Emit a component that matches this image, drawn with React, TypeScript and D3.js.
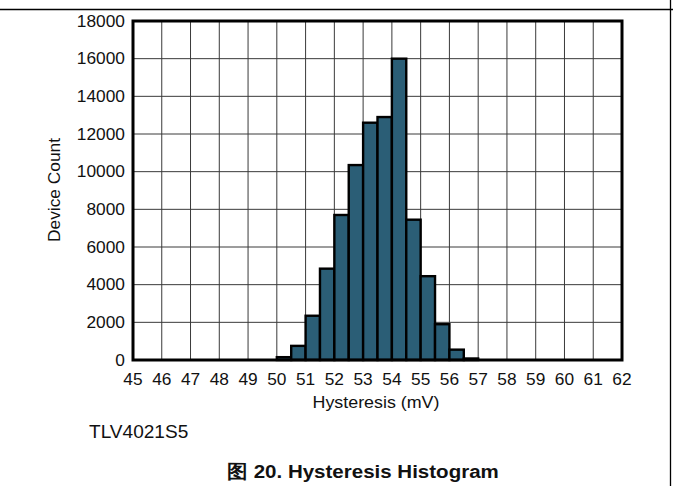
import React from "react";
import * as d3 from "d3";

const binStarts: number[] = [50.0, 50.5, 51.0, 51.5, 52.0, 52.5, 53.0, 53.5, 54.0, 54.5, 55.0, 55.5, 56.0, 56.5];
const counts: number[] = [150, 750, 2350, 4850, 7700, 10350, 12600, 12900, 16000, 7450, 4450, 1900, 550, 80];
const binWidth = 0.5;
const xTicks: number[] = d3.range(45, 63, 1);
const yTicks: number[] = d3.range(0, 18001, 2000);
const xLabel = "Hysteresis (mV)";
const yLabel = "Device Count";
const deviceLabel = "TLV4021S5";
const caption = "图 20. Hysteresis Histogram";

const W = 673;
const H = 486;
const plot = { left: 133, right: 622, top: 21, bottom: 360 };
const FONT = "'Liberation Sans', Arial, Helvetica, sans-serif";

export default function App() {
  const x = d3.scaleLinear().domain([45, 62]).range([plot.left, plot.right]);
  const y = d3.scaleLinear().domain([0, 18000]).range([plot.bottom, plot.top]);

  return (
    <svg
      width={W}
      height={H}
      style={{ position: "absolute", left: 0, top: 0, background: "#fff" }}
      fontFamily={FONT}
    >
      <rect x={0} y={0} width={W} height={H} fill="#fff" />
      {/* page frame lines */}
      <line x1={0} x2={W} y1={9.5} y2={9.5} stroke="#000" strokeWidth={1.3} />
      <line x1={670.5} x2={670.5} y1={0} y2={H} stroke="#000" strokeWidth={1.3} />

      {/* grid */}
      {xTicks.map((t) => (
        <line key={"gx" + t} x1={x(t)} x2={x(t)} y1={plot.top} y2={plot.bottom} stroke="#3a3a3a" strokeWidth={1} />
      ))}
      {yTicks.map((t) => (
        <line key={"gy" + t} x1={plot.left} x2={plot.right} y1={y(t)} y2={y(t)} stroke="#3a3a3a" strokeWidth={1} />
      ))}

      {/* bars */}
      {binStarts.map((b, i) => (
        <rect
          key={"b" + i}
          x={x(b)}
          y={y(counts[i])}
          width={x(b + binWidth) - x(b)}
          height={y(0) - y(counts[i])}
          fill="#2b5e76"
          stroke="#000"
          strokeWidth={2.4}
        />
      ))}

      {/* plot border */}
      <rect
        x={plot.left}
        y={plot.top}
        width={plot.right - plot.left}
        height={plot.bottom - plot.top}
        fill="none"
        stroke="#000"
        strokeWidth={3}
      />

      {/* y tick labels */}
      {yTicks.map((t) => (
        <text
          key={"yl" + t}
          transform={`translate(125,${y(t) + 5.8}) scale(1.05,1)`}
          textAnchor="end"
          fontSize={16.5}
          fill="#111"
        >
          {t}
        </text>
      ))}

      {/* x tick labels */}
      {xTicks.map((t) => (
        <text
          key={"xl" + t}
          transform={`translate(${x(t)},385) scale(1.05,1)`}
          textAnchor="middle"
          fontSize={16.5}
          fill="#111"
        >
          {t}
        </text>
      ))}

      {/* axis titles */}
      <text
        transform={`translate(376,407.5) scale(1.05,1)`}
        textAnchor="middle"
        fontSize={17}
        fill="#111"
      >
        {xLabel}
      </text>
      <text
        transform={`translate(59.5,190) rotate(-90) scale(1.05,1)`}
        textAnchor="middle"
        fontSize={16.5}
        fill="#111"
      >
        {yLabel}
      </text>

      <text
        transform={`translate(89,438) scale(1.06,1)`}
        fontSize={18}
        fill="#111"
      >
        {deviceLabel}
      </text>

      <text
        transform={`translate(363,478) scale(1.08,1)`}
        textAnchor="middle"
        fontSize={19}
        fontWeight="bold"
        fill="#111"
      >
        {caption}
      </text>
    </svg>
  );
}
